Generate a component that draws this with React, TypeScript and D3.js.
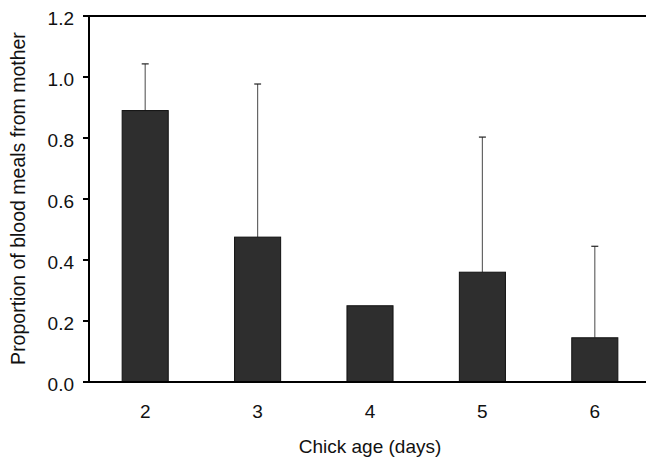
import React from 'react'
import * as d3 from 'd3'

// chick age categories and mean proportion + upper error
const ages = ['2', '3', '4', '5', '6']
const means = [0.89, 0.475, 0.25, 0.36, 0.145]
const upper = [1.043, 0.977, null, 0.803, 0.445]
const yTicks = [0, 0.2, 0.4, 0.6, 0.8, 1.0, 1.2]

const W = 646
const H = 457
const left = 89
const right = 651
const top = 16
const bottom = 382

export default function App() {
  const x = d3.scaleBand().domain(ages).range([left, right]).paddingInner(0.59).paddingOuter(0.295)
  const y = d3.scaleLinear().domain([0, 1.2]).range([bottom, top])
  const font = '"Liberation Sans", Arial, sans-serif'

  return (
    <svg width={W} height={H} style={{ position: 'absolute', left: 0, top: 0 }}>
      <rect width={W} height={H} fill="#fff" />
      {/* error bars behind bars */}
      {ages.map((a, i) => {
        const u = upper[i]
        if (u == null) return null
        const cx = x(a)! + x.bandwidth() / 2
        return (
          <g key={'e' + a} stroke="#666" strokeWidth={1.2}>
            <line x1={cx} x2={cx} y1={y(means[i])} y2={y(u)} />
            <line x1={cx - 3.5} x2={cx + 3.5} y1={y(u)} y2={y(u)} stroke="#222" />
          </g>
        )
      })}
      {ages.map((a, i) => (
        <rect key={a} x={x(a)} y={y(means[i])} width={x.bandwidth()} height={bottom - y(means[i])}
          fill="#2e2e2e" stroke="#111" strokeWidth={1} />
      ))}
      {/* frame: left axis, top line, bottom axis */}
      <line x1={left} x2={left} y1={top} y2={bottom} stroke="#000" strokeWidth={2} />
      <line x1={left - 6} x2={W} y1={top} y2={top} stroke="#000" strokeWidth={2} />
      <line x1={left - 6} x2={W} y1={bottom} y2={bottom} stroke="#000" strokeWidth={2} />
      {yTicks.map(t => (
        <g key={t}>
          <line x1={left - 6} x2={left} y1={y(t)} y2={y(t)} stroke="#000" strokeWidth={2} />
          <text x={74} y={y(t)} dy="0.45em" textAnchor="end" fontSize={19} fontFamily={font} fill="#111">
            {t.toFixed(1)}
          </text>
        </g>
      ))}
      {ages.map(a => (
        <text key={'l' + a} x={x(a)! + x.bandwidth() / 2} y={418} textAnchor="middle" fontSize={19}
          fontFamily={font} fill="#111">{a}</text>
      ))}
      <text x={(left + right) / 2} y={453} textAnchor="middle" fontSize={19} fontFamily={font} fill="#111">Chick age (days)</text>
      <text transform={`translate(25,198.5) rotate(-90)`} textAnchor="middle" fontSize={19.5}
        fontFamily={font} fill="#111">Proportion of blood meals from mother</text>
    </svg>
  )
}
